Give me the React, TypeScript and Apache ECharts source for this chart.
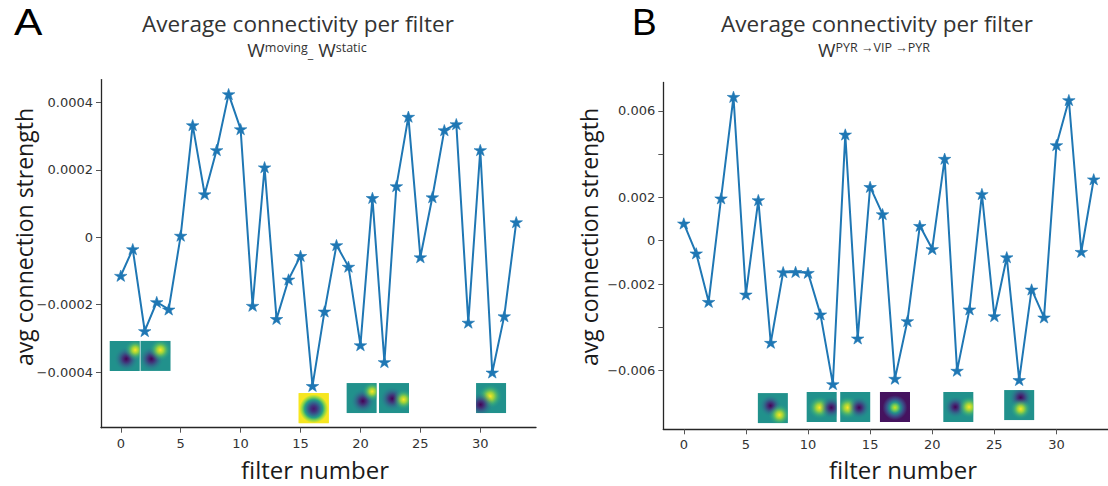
import React, { useEffect, useRef } from "react";
import * as echarts from "echarts";

// ---------- data ----------
const filterNumbers = [0, 1, 2, 3, 4, 5, 6, 7, 8, 9, 10, 11, 12, 13, 14, 15, 16, 17, 18, 19, 20, 21, 22, 23, 24, 25, 26, 27, 28, 29, 30, 31, 32, 33];

const movingMinusStatic = [
  -0.000114, -0.000035, -0.000278, -0.000192, -0.000214, 0.000005, 0.000333, 0.000128,
  0.000259, 0.000425, 0.000321, -0.000203, 0.000208, -0.000242, -0.000125, -0.000055,
  -0.000441, -0.00022, -0.000023, -0.000087, -0.00032, 0.000117, -0.00037, 0.000152,
  0.000358, -0.000059, 0.000119, 0.000318, 0.000336, -0.000253, 0.000259, -0.000401,
  -0.000234, 0.000045,
];

const pyrVipPyr = [
  0.0008, -0.00058, -0.00282, 0.00196, 0.00665, -0.00248, 0.00188, -0.00471, -0.00145,
  -0.00144, -0.00148, -0.0034, -0.00662, 0.00491, -0.00451, 0.00249, 0.00123, -0.00637,
  -0.00371, 0.00069, -0.00038, 0.00379, -0.006, -0.00317, 0.00216, -0.00348, -0.00076,
  -0.00643, -0.00225, -0.00354, 0.00442, 0.0065, -0.00051, 0.00284,
];

const xTickValues = [0, 5, 10, 15, 20, 25, 30];
const leftYTickValues = [-0.0004, -0.0002, 0, 0.0002, 0.0004];
const rightYTickValues = [-0.006, -0.004, -0.002, 0, 0.002, 0.004, 0.006];
const rightYLabelValues = [-0.006, -0.002, 0, 0.002, 0.006];

// filter image anchors: [filter position, value, image id]
const leftFilterImages = [
  [0.33, -0.000352, 0],
  [2.9, -0.000352, 1],
  [16.1, -0.000507, 2],
  [20.1, -0.000477, 3],
  [22.8, -0.000477, 4],
  [30.9, -0.000477, 5],
];
const rightFilterImages = [
  [7.17, -0.00773, 6],
  [11.1, -0.00768, 7],
  [13.8, -0.00768, 8],
  [17.0, -0.00768, 9],
  [22.1, -0.00768, 10],
  [27.0, -0.00759, 11],
];

// ---------- styles ----------
const BLUE = "#1f77b4";
const STAR =
  "path://M0,-1L0.2245,-0.309L0.951,-0.309L0.363,0.118L0.588,0.809L0,0.382L-0.588,0.809L-0.363,0.118L-0.951,-0.309L-0.2245,-0.309Z";
const TITLE_FONT = "Open Sans";
const TICK_FONT = "DejaVu Sans";
const IMG = 30;

type Blob = { kind: "y" | "d"; cx: number; cy: number; r: number };
type Img = { bg: string; blobs?: Blob[]; radial?: { color: string; offset: number }[]; rr?: number };

const TEAL = "#21918c";
const imageStyles: Img[] = [
  { bg: TEAL, blobs: [{ kind: "d", cx: 0.55, cy: 0.6, r: 0.42 }, { kind: "y", cx: 0.85, cy: 0.3, r: 0.36 }] },
  { bg: TEAL, blobs: [{ kind: "d", cx: 0.36, cy: 0.6, r: 0.42 }, { kind: "y", cx: 0.66, cy: 0.3, r: 0.38 }] },
  {
    bg: "#f6e620",
    rr: 0.5,
    radial: [
      { offset: 0, color: "#46186e" },
      { offset: 0.2, color: "#40337f" },
      { offset: 0.42, color: "#2f6b8e" },
      { offset: 0.6, color: "#25a085" },
      { offset: 0.78, color: "#8fd744" },
      { offset: 0.95, color: "#f6e620" },
      { offset: 1, color: "#f6e620" },
    ],
  },
  { bg: TEAL, blobs: [{ kind: "d", cx: 0.54, cy: 0.6, r: 0.42 }, { kind: "y", cx: 0.85, cy: 0.28, r: 0.34 }] },
  { bg: TEAL, blobs: [{ kind: "d", cx: 0.44, cy: 0.52, r: 0.42 }, { kind: "y", cx: 0.82, cy: 0.55, r: 0.36 }] },
  { bg: TEAL, blobs: [{ kind: "y", cx: 0.47, cy: 0.44, r: 0.42 }, { kind: "d", cx: 0.15, cy: 0.72, r: 0.42 }] },
  { bg: TEAL, blobs: [{ kind: "d", cx: 0.42, cy: 0.42, r: 0.38 }, { kind: "y", cx: 0.72, cy: 0.73, r: 0.38 }] },
  { bg: TEAL, blobs: [{ kind: "y", cx: 0.43, cy: 0.52, r: 0.4 }, { kind: "d", cx: 0.82, cy: 0.52, r: 0.38 }] },
  { bg: TEAL, blobs: [{ kind: "y", cx: 0.25, cy: 0.52, r: 0.4 }, { kind: "d", cx: 0.63, cy: 0.52, r: 0.38 }] },
  {
    bg: "#45135f",
    rr: 0.46,
    radial: [
      { offset: 0, color: "#cde11d" },
      { offset: 0.18, color: "#7ad151" },
      { offset: 0.4, color: "#23908c" },
      { offset: 0.62, color: "#3b4f8a" },
      { offset: 0.9, color: "#45135f" },
      { offset: 1, color: "#45135f" },
    ],
  },
  { bg: TEAL, blobs: [{ kind: "d", cx: 0.4, cy: 0.5, r: 0.38 }, { kind: "y", cx: 0.86, cy: 0.5, r: 0.38 }] },
  { bg: TEAL, blobs: [{ kind: "d", cx: 0.55, cy: 0.25, r: 0.4 }, { kind: "y", cx: 0.55, cy: 0.63, r: 0.36 }] },
];

const yellowStops = [
  { offset: 0, color: "rgba(253,231,37,1)" },
  { offset: 0.3, color: "rgba(180,222,44,0.85)" },
  { offset: 0.65, color: "rgba(80,195,105,0.4)" },
  { offset: 1, color: "rgba(33,145,140,0)" },
];
const darkStops = [
  { offset: 0, color: "rgba(68,1,84,1)" },
  { offset: 0.3, color: "rgba(70,40,120,0.85)" },
  { offset: 0.65, color: "rgba(56,88,140,0.4)" },
  { offset: 1, color: "rgba(33,145,140,0)" },
];

function renderFilterImage(_params: any, api: any) {
  const p = api.coord([api.value(0), api.value(1)]);
  const st = imageStyles[api.value(2)];
  const x = p[0] - IMG / 2;
  const y = p[1] - IMG / 2;
  const children: any[] = [
    { type: "rect", shape: { x, y, width: IMG, height: IMG }, style: { fill: st.bg } },
  ];
  if (st.radial) {
    children.push({
      type: "rect",
      shape: { x, y, width: IMG, height: IMG },
      style: { fill: new echarts.graphic.RadialGradient(0.5, 0.52, st.rr || 0.5, st.radial) },
    });
  }
  (st.blobs || []).forEach((b) => {
    children.push({
      type: "rect",
      shape: { x, y, width: IMG, height: IMG },
      style: {
        fill: new echarts.graphic.RadialGradient(b.cx, b.cy, b.r, b.kind === "y" ? yellowStops : darkStops),
      },
    });
  });
  return { type: "group", children };
}

const fmt = (v: number) => (v === 0 ? "0" : (v < 0 ? "\u2212" : "") + String(Math.abs(v)));

function xAxisCfg(grid: number, min: number, max: number) {
  return {
    gridIndex: grid,
    type: "value",
    min,
    max,
    axisLine: { show: true, onZero: false, lineStyle: { color: "#262626", width: 1.3 } },
    axisTick: { show: true, length: 5, customValues: xTickValues, lineStyle: { color: "#555", width: 1 } },
    axisLabel: { customValues: xTickValues, margin: 9, color: "#333", fontFamily: TICK_FONT, fontSize: 13, formatter: fmt },
    splitLine: { show: false },
  };
}

function yAxisCfg(grid: number, min: number, max: number, ticks: number[], labels: number[]) {
  return {
    gridIndex: grid,
    type: "value",
    min,
    max,
    axisLine: { show: true, onZero: false, lineStyle: { color: "#262626", width: 1.3 } },
    axisTick: { show: true, length: 5, customValues: ticks, lineStyle: { color: "#555", width: 1 } },
    axisLabel: { customValues: labels, margin: 8, color: "#333", fontFamily: TICK_FONT, fontSize: 13, formatter: fmt },
    splitLine: { show: false },
  };
}

function lineSeries(idx: number, values: number[]) {
  return {
    type: "line",
    xAxisIndex: idx,
    yAxisIndex: idx,
    data: filterNumbers.map((f, i) => [f, values[i]]),
    lineStyle: { color: BLUE, width: 2 },
    itemStyle: { color: BLUE, borderColor: BLUE, borderWidth: 0.6 },
    symbol: STAR,
    symbolSize: [12.5, 11.9],
    symbolKeepAspect: true,
    showAllSymbol: true,
    z: 3,
  };
}

function imageSeries(idx: number, data: number[][]) {
  return {
    type: "custom",
    xAxisIndex: idx,
    yAxisIndex: idx,
    data,
    renderItem: renderFilterImage,
    clip: false,
    silent: true,
    z: 2,
  };
}

const titleText = "Average connectivity per filter";
const yTitleStyle = { fontFamily: TITLE_FONT, fontSize: 23, fill: "#1a1a1a" };
const xTitleStyle = { fontFamily: TITLE_FONT, fontSize: 24, fill: "#1a1a1a" };

export default function App() {
  const ref = useRef<HTMLDivElement>(null);
  useEffect(() => {
    if (!ref.current) return;
    const chart = echarts.init(ref.current, null, { renderer: "svg" });
    chart.setOption({
      animation: false,
      backgroundColor: "#ffffff",
      grid: [
        { left: 101, top: 79.6, width: 435, height: 348.1 },
        { left: 663.3, top: 82.5, width: 444.7, height: 346.8 },
      ],
      xAxis: [xAxisCfg(0, -1.65, 34.65), xAxisCfg(1, -1.65, 34.15)],
      yAxis: [
        yAxisCfg(0, -0.000565, 0.000468, leftYTickValues, leftYTickValues),
        yAxisCfg(1, -0.00871, 0.00731, rightYTickValues, rightYLabelValues),
      ],
      series: [
        imageSeries(0, leftFilterImages),
        imageSeries(1, rightFilterImages),
        lineSeries(0, movingMinusStatic),
        lineSeries(1, pyrVipPyr),
      ],
      graphic: [
        { type: "text", x: 14, y: 22, scaleX: 1.15, style: { text: "A", fontFamily: "Liberation Sans", fontSize: 37, fill: "#000", verticalAlign: "middle", align: "left" } },
        { type: "text", x: 632, y: 22, style: { text: "B", fontFamily: "Liberation Sans", fontSize: 37, fill: "#000", verticalAlign: "middle", align: "left" } },
        { type: "text", x: 298, y: 23, style: { text: titleText, fontFamily: TITLE_FONT, fontSize: 22.5, fill: "#333", align: "center", verticalAlign: "middle" } },
        { type: "text", x: 877, y: 23, style: { text: titleText, fontFamily: TITLE_FONT, fontSize: 22.5, fill: "#333", align: "center", verticalAlign: "middle" } },
        {
          type: "text",
          x: 307,
          y: 50,
          style: {
            text: "{w|W}{s|moving}{u|_}{w| W}{s|static}",
            align: "center",
            verticalAlign: "middle",
            fill: "#333",
            rich: {
              w: { fontFamily: TITLE_FONT, fontSize: 19, fill: "#333" },
              s: { fontFamily: TITLE_FONT, fontSize: 12.5, fill: "#333", verticalAlign: "top" },
              u: { fontFamily: TITLE_FONT, fontSize: 12.5, fill: "#333", verticalAlign: "bottom" },
            },
          },
        },
        {
          type: "text",
          x: 874,
          y: 50,
          style: {
            text: "{w|W}{s|PYR \u2192VIP \u2192PYR}",
            align: "center",
            verticalAlign: "middle",
            fill: "#333",
            rich: {
              w: { fontFamily: TITLE_FONT, fontSize: 19, fill: "#333" },
              s: { fontFamily: TITLE_FONT, fontSize: 12.5, fill: "#333", verticalAlign: "top" },
            },
          },
        },
        { type: "text", x: 24, y: 237, rotation: Math.PI / 2, style: { text: "avg connection strength", ...yTitleStyle, align: "center", verticalAlign: "middle" } },
        { type: "text", x: 589, y: 237, rotation: Math.PI / 2, style: { text: "avg connection strength", ...yTitleStyle, align: "center", verticalAlign: "middle" } },
        { type: "text", x: 315, y: 469, style: { text: "filter number", ...xTitleStyle, align: "center", verticalAlign: "middle" } },
        { type: "text", x: 903, y: 469, style: { text: "filter number", ...xTitleStyle, align: "center", verticalAlign: "middle" } },
      ],
    });
    return () => chart.dispose();
  }, []);
  return (
    <div
      ref={ref}
      style={{ position: "absolute", left: 0, top: 0, width: 1108, height: 486, background: "#fff" }}
    />
  );
}
